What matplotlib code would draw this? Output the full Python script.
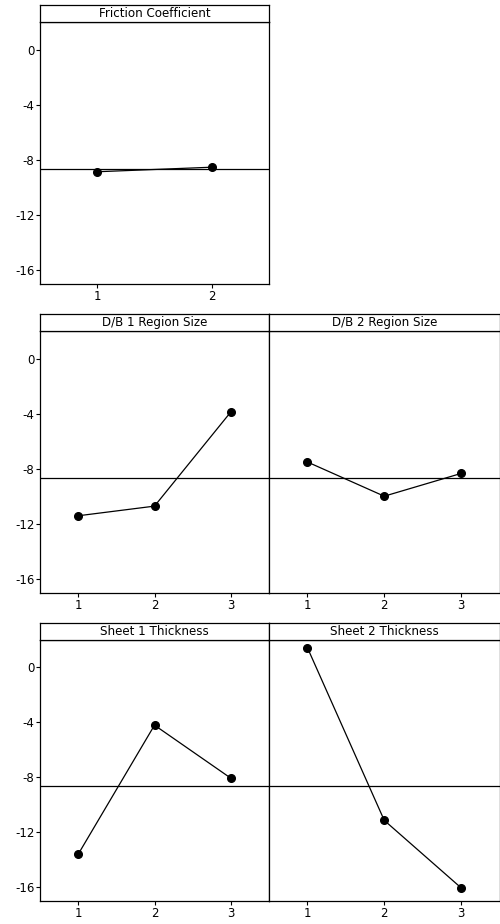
import matplotlib
matplotlib.use("Agg")
import matplotlib.pyplot as plt

# ---- data ----
grand_mean = -8.65
friction_levels = [1, 2]
friction_values = [-8.86, -8.53]
db1_levels = [1, 2, 3]
db1_values = [-11.4, -10.7, -3.87]
db2_levels = [1, 2, 3]
db2_values = [-7.5, -9.98, -8.33]
sheet1_levels = [1, 2, 3]
sheet1_values = [-13.6, -4.2, -8.06]
sheet2_levels = [1, 2, 3]
sheet2_values = [1.44, -11.13, -16.04]
titles = ["Friction Coefficient", "D/B 1 Region Size", "D/B 2 Region Size",
          "Sheet 1 Thickness", "Sheet 2 Thickness"]
y_ticks = [0, -4, -8, -12, -16]

W, H = 500, 924
plt.rcParams['font.family'] = ['DejaVu Sans']
fig = plt.figure(figsize=(W / 100, H / 100), dpi=100)

def rect(x0, x1, ytop, ybot):
    return [x0 / W, 1 - ybot / H, (x1 - x0) / W, (ybot - ytop) / H]

def panel(x0, x1, strip_top, strip_bot, ax_bot, levels, values, title, show_y):
    ax = fig.add_axes(rect(x0, x1, strip_bot, ax_bot))
    ax.plot(levels, values, color='black', lw=0.9, marker='o', ms=5.5,
            markerfacecolor='black', markeredgecolor='black', zorder=3)
    ax.axhline(grand_mean, color='black', lw=0.9, zorder=2)
    ax.set_ylim(-17, 2)
    ax.set_xlim(0.5, len(levels) + 0.5)
    ax.set_xticks(levels)
    ax.set_xticklabels([str(l) for l in levels], fontsize=8.5)
    ax.set_yticks(y_ticks)
    if show_y:
        ax.set_yticklabels([str(t) for t in y_ticks], fontsize=8.5)
        ax.tick_params(axis='y', length=3, width=0.8, pad=1.0)
    else:
        ax.tick_params(axis='y', left=False, labelleft=False)
    ax.tick_params(axis='x', length=3, width=0.8, pad=1.5)
    for s in ax.spines.values():
        s.set_linewidth(0.9)
    sax = fig.add_axes(rect(x0, x1, strip_top, strip_bot))
    sax.set_xticks([]); sax.set_yticks([])
    for s in sax.spines.values():
        s.set_linewidth(0.9)
    sax.text(0.5, 0.5, title, ha='center', va='center', fontsize=8.6,
             transform=sax.transAxes)
    return ax

panel(40, 269, 5, 22, 284, friction_levels, friction_values, titles[0], True)
panel(40, 269, 314, 331, 593, db1_levels, db1_values, titles[1], True)
panel(269, 499.5, 314, 331, 593, db2_levels, db2_values, titles[2], False)
panel(40, 269, 623, 640, 901, sheet1_levels, sheet1_values, titles[3], True)
panel(269, 499.5, 623, 640, 901, sheet2_levels, sheet2_values, titles[4], False)

fig.savefig("out.png", dpi=100)
